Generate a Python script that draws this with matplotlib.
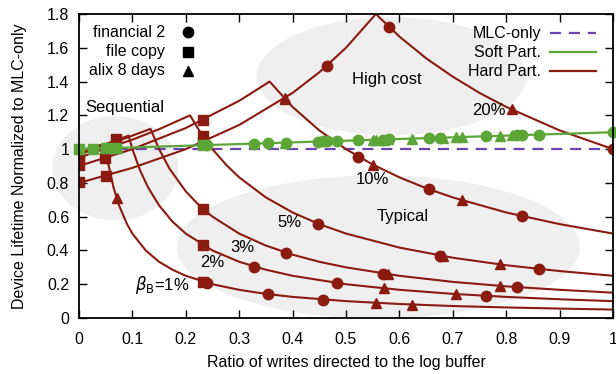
import matplotlib
matplotlib.use("Agg")
import matplotlib.pyplot as plt
from matplotlib.patches import Ellipse

plt.rcParams['font.family'] = ['Liberation Sans', 'DejaVu Sans']
plt.rcParams['font.size'] = 11.5

RED = '#8b1a10'
GREEN = '#5ca638'
PURPLE = '#6a45b0'
GREY = '#efefef'

## hard partitioning curves, one per log buffer size
x_b1 = [0, 0.048, 0.055, 0.065, 0.075, 0.09, 0.1, 0.125, 0.15, 0.175, 0.2, 0.25, 0.3, 0.35, 0.4, 0.5, 0.6, 0.7, 0.8, 0.9, 1.0]
y_b1 = [0.99, 1.03, 0.91, 0.77, 0.667, 0.556, 0.5, 0.4, 0.333, 0.286, 0.25, 0.2, 0.167, 0.143, 0.125, 0.1, 0.083, 0.071, 0.0625, 0.056, 0.05]

x_b2 = [0, 0.05, 0.093, 0.1, 0.115, 0.13, 0.15, 0.175, 0.2, 0.25, 0.3, 0.35, 0.4, 0.5, 0.6, 0.7, 0.8, 0.9, 1.0]
y_b2 = [0.98, 1.03, 1.08, 1.0, 0.87, 0.77, 0.667, 0.571, 0.5, 0.4, 0.333, 0.286, 0.25, 0.2, 0.167, 0.143, 0.125, 0.111, 0.1]

x_b3 = [0, 0.05, 0.1, 0.134, 0.15, 0.17, 0.2, 0.225, 0.25, 0.3, 0.35, 0.4, 0.45, 0.5, 0.6, 0.7, 0.8, 0.9, 1.0]
y_b3 = [0.97, 1.02, 1.08, 1.12, 1.0, 0.882, 0.75, 0.667, 0.6, 0.5, 0.429, 0.375, 0.333, 0.3, 0.25, 0.214, 0.1875, 0.167, 0.15]

x_b5 = [0, 0.1, 0.15, 0.208, 0.225, 0.25, 0.275, 0.3, 0.35, 0.4, 0.45, 0.5, 0.6, 0.7, 0.8, 0.9, 1.0]
y_b5 = [0.95, 1.056, 1.118, 1.2, 1.111, 1.0, 0.909, 0.833, 0.714, 0.625, 0.556, 0.5, 0.417, 0.357, 0.3125, 0.278, 0.25]

x_b10 = [0, 0.1, 0.2, 0.3, 0.357, 0.4, 0.45, 0.5, 0.55, 0.6, 0.65, 0.7, 0.8, 0.9, 1.0]
y_b10 = [0.9, 1.0, 1.125, 1.286, 1.4, 1.25, 1.111, 1.0, 0.909, 0.833, 0.769, 0.714, 0.625, 0.556, 0.5]

x_b20 = [0, 0.1, 0.2, 0.3, 0.4, 0.45, 0.5, 0.556, 0.6, 0.65, 0.7, 0.75, 0.8, 0.9, 1.0]
y_b20 = [0.8, 0.889, 1.0, 1.143, 1.333, 1.455, 1.6, 1.8, 1.667, 1.538, 1.429, 1.333, 1.25, 1.111, 1.0]

## soft partitioning and MLC-only
x_soft = [0, 1.0]
y_soft = [1.0, 1.1]
x_mlc = [0, 1.0]
y_mlc = [1.0, 1.0]

## workload points on the hard partitioning curves
fin2_x = [0.239, 0.3545, 0.4575, 0.328, 0.484, 0.763, 0.388, 0.570, 0.821,
          0.448, 0.676, 0.861, 0.523, 0.655, 0.829, 0.465, 0.581, 1.0]
fin2_y = [0.209, 0.141, 0.109, 0.305, 0.207, 0.131, 0.387, 0.263, 0.183,
          0.558, 0.370, 0.290, 0.956, 0.763, 0.603, 1.495, 1.721, 1.0]

copy_x = [0, 0, 0, 0, 0.051, 0.049, 0.07, 0.232, 0.232, 0.232, 0.232, 0.232, 0.232]
copy_y = [0.806, 0.905, 0.95, 0.97, 0.843, 0.946, 1.06, 0.215, 0.431, 0.647, 1.078, 1.172, 1.042]

alix_x = [0.0705, 0.557, 0.623, 0.07, 0.572, 0.706, 0.07, 0.579, 0.788,
          0.682, 0.788, 0.386, 0.551, 0.717, 0.386, 0.81]
alix_y = [0.709, 0.090, 0.080, 1.054, 0.175, 0.142, 1.043, 0.259, 0.190,
          0.367, 0.317, 1.295, 0.907, 0.697, 1.303, 1.235]

## workload points on the soft partitioning line
soft_fin2_x = [0.239, 0.328, 0.3545, 0.388, 0.448, 0.4575, 0.465, 0.484, 0.523, 0.570,
               0.581, 0.655, 0.676, 0.763, 0.821, 0.829, 0.861, 1.0]
soft_fin2_y = [1.024, 1.033, 1.035, 1.039, 1.045, 1.046, 1.047, 1.048, 1.052, 1.057,
               1.058, 1.066, 1.068, 1.076, 1.082, 1.083, 1.086, 1.1]
soft_copy_x = [0, 0.027, 0.05, 0.07, 0.232]
soft_copy_y = [1.0, 1.003, 1.005, 1.007, 1.023]
soft_alix_x = [0.05, 0.0705, 0.386, 0.551, 0.557, 0.572, 0.579, 0.623, 0.682, 0.706, 0.717, 0.788, 0.81]
soft_alix_y = [1.005, 1.007, 1.039, 1.055, 1.056, 1.057, 1.058, 1.062, 1.068, 1.071, 1.072, 1.079, 1.081]

x_ticks = [0, 0.1, 0.2, 0.3, 0.4, 0.5, 0.6, 0.7, 0.8, 0.9, 1]
x_tick_labels = ['0', '0.1', '0.2', '0.3', '0.4', '0.5', '0.6', '0.7', '0.8', '0.9', '1']
y_ticks = [0, 0.2, 0.4, 0.6, 0.8, 1.0, 1.2, 1.4, 1.6, 1.8]
y_tick_labels = ['0', '0.2', '0.4', '0.6', '0.8', '1', '1.2', '1.4', '1.6', '1.8']

fig = plt.figure(figsize=(6.16, 3.74), dpi=100)
ax = fig.add_axes([0.1282, 0.1497, 0.8669, 0.8128])

## grey regions
for (cx, cy, w, h) in [(0.068, 0.887, 0.236, 0.616), (0.5856, 1.432, 0.506, 0.699), (0.5605, 0.421, 0.755, 0.847)]:
    ax.add_patch(Ellipse((cx, cy), w, h, facecolor=GREY, edgecolor='none', zorder=0, clip_on=False))

ax.plot(x_mlc, y_mlc, color=PURPLE, lw=1.6, dashes=(5, 3.5), zorder=2)

for xs, ys in [(x_b1, y_b1), (x_b2, y_b2), (x_b3, y_b3), (x_b5, y_b5), (x_b10, y_b10), (x_b20, y_b20)]:
    ax.plot(xs, ys, color=RED, lw=1.5, zorder=3)

ms = 7.5
ax.plot(fin2_x, fin2_y, 'o', color=RED, ms=ms, zorder=4)
ax.plot(copy_x, copy_y, 's', color=RED, ms=ms, zorder=4)
ax.plot(alix_x, alix_y, '^', color=RED, ms=ms, zorder=4)

ax.plot(x_soft, y_soft, color=GREEN, lw=1.6, zorder=5)
ax.plot(soft_fin2_x, soft_fin2_y, 'o', color=GREEN, ms=ms, zorder=6, clip_on=False)
ax.plot(soft_copy_x, soft_copy_y, 's', color=GREEN, ms=ms, zorder=6, clip_on=False)
ax.plot(soft_alix_x, soft_alix_y, '^', color=GREEN, ms=ms, zorder=6, clip_on=False)

## annotations
ax.text(0.011, 1.246, 'Sequential', ha='left', va='center', fontsize=12, zorder=8)
ax.text(0.576, 1.414, 'High cost', ha='center', va='center', fontsize=12, zorder=8)
ax.text(0.606, 0.599, 'Typical', ha='center', va='center', fontsize=12, zorder=8)
ax.text(0.767, 1.231, '20%', ha='center', va='center', fontsize=12, zorder=8)
ax.text(0.550, 0.82, '10%', ha='center', va='center', fontsize=12, zorder=8)
ax.text(0.394, 0.563, '5%', ha='center', va='center', fontsize=12, zorder=8)
ax.text(0.3065, 0.417, '3%', ha='center', va='center', fontsize=12, zorder=8)
ax.text(0.2497, 0.328, '2%', ha='center', va='center', fontsize=12, zorder=8)
ax.text(0.155, 0.194, r'$\beta_{\rm B}$=1%', ha='center', va='center', fontsize=12, zorder=8)

## legends, gnuplot style (text right aligned, key on the right)
for i, (lab, mk) in enumerate([('financial 2', 'o'), ('file copy', 's'), ('alix 8 days', '^')]):
    yy = 0.940 - i * 0.0635
    ax.text(0.161, yy, lab, transform=ax.transAxes, ha='right', va='center', zorder=9)
    ax.plot([0.204], [yy], mk, color='black', ms=ms, transform=ax.transAxes, zorder=9)

for i, (lab, col, ls) in enumerate([('MLC-only', PURPLE, (5, 3.5)), ('Soft Part.', GREEN, None), ('Hard Part.', RED, None)]):
    yy = 0.937 - i * 0.0625
    ax.text(0.866, yy, lab, transform=ax.transAxes, ha='right', va='center', zorder=9)
    ln, = ax.plot([0.882, 0.969], [yy, yy], color=col, lw=1.6, transform=ax.transAxes, zorder=9)
    if ls:
        ln.set_dashes(ls)

ax.set_xlim(0, 1)
ax.set_ylim(0, 1.8)
ax.set_xticks(x_ticks)
ax.set_xticklabels(x_tick_labels)
ax.set_yticks(y_ticks)
ax.set_yticklabels(y_tick_labels)
ax.tick_params(direction='in', length=6, width=1, top=True, right=True)
ax.tick_params(axis='x', pad=10)
ax.tick_params(axis='y', pad=7)
for sp in ax.spines.values():
    sp.set_linewidth(1.3)
    sp.set_zorder(10)

ax.set_xlabel('Ratio of writes directed to the log buffer', labelpad=6)
ax.set_ylabel('Device Lifetime Normalized to MLC-only', labelpad=14)

plt.savefig('out.png', dpi=100)
